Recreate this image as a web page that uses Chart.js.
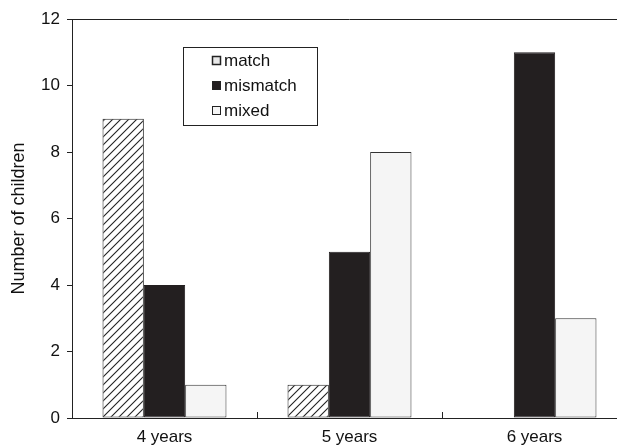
<!DOCTYPE html>
<html>
<head>
<meta charset="utf-8">
<script src="https://cdn.jsdelivr.net/npm/chart.js@4/dist/chart.umd.min.js"></script>
<style>
  html,body{ margin:0; padding:0; background:#fff; overflow:hidden; }
  #c{ display:block; }
</style>
</head>
<body>
<canvas id="c" width="640" height="447"></canvas>
<script>
(function(){
  'use strict';

  // data
  const categories = ['4 years','5 years','6 years'];
  const seriesNames = ['match','mismatch','mixed'];
  const matchVals    = [9, 1, 0];
  const mismatchVals = [4, 5, 11];
  const mixedVals    = [1, 8, 3];
  const yTicks = [0, 2, 4, 6, 8, 10, 12];

  const FONT = "'Liberation Sans', Arial, sans-serif";
  const INK = '#222';

  function hatch(){
    const s = 8, c = document.createElement('canvas');
    c.width = s; c.height = s;
    const g = c.getContext('2d');
    g.fillStyle = '#fff'; g.fillRect(0,0,s,s);
    g.strokeStyle = '#222'; g.lineWidth = 1.1;
    g.beginPath();
    g.moveTo(0,s); g.lineTo(s,0);
    g.moveTo(-1,1); g.lineTo(1,-1);
    g.moveTo(s-1,s+1); g.lineTo(s+1,s-1);
    g.stroke();
    return g.createPattern(c,'repeat');
  }
  const ctx = document.getElementById('c');
  const pat = hatch();
  const fills = [pat, '#231f20', '#f5f5f5'];

  // inward ticks between categories + top frame line
  const frame = {
    id:'frame',
    afterDraw(chart){
      const g = chart.ctx, a = chart.chartArea, x = chart.scales.x;
      g.save();
      g.strokeStyle = INK; g.lineWidth = 1;
      g.beginPath();
      g.moveTo(a.left, a.top + 0.5); g.lineTo(a.right, a.top + 0.5);
      for (let i=1;i<categories.length;i++){
        const px = Math.round((x.getPixelForTick(i-1)+x.getPixelForTick(i))/2) + 0.5;
        g.moveTo(px, a.bottom); g.lineTo(px, a.bottom - 6);
      }
      g.stroke();
      g.restore();
    }
  };

  // legend box inside plot
  const boxLegend = {
    id:'boxLegend',
    afterDraw(chart){
      const g = chart.ctx, a = chart.chartArea;
      const bx = a.left + 111, by = a.top + 28, bw = 134, bh = 78;
      g.save();
      g.fillStyle = '#fff'; g.fillRect(bx, by, bw, bh);
      g.strokeStyle = INK; g.lineWidth = 1;
      g.strokeRect(bx+0.5, by+0.5, bw, bh);
      g.font = '17px ' + FONT;
      g.textBaseline = 'middle';
      seriesNames.forEach((name,i)=>{
        const cy = by + 13 + i*25;
        g.fillStyle = i===0 ? '#e8e8e8' : fills[i];
        g.fillRect(bx+29, cy-4, 9, 9);
        g.strokeStyle = INK; g.lineWidth = i===0 ? 1.5 : 1;
        g.strokeRect(bx+29.5, cy-3.5, 8, 8);
        g.fillStyle = '#111';
        g.fillText(name, bx+41, cy+1);
      });
      g.restore();
    }
  };

  new Chart(ctx, {
    type:'bar',
    data:{
      labels: categories,
      datasets:[
        { label:seriesNames[0], data:matchVals,    backgroundColor:fills[0], borderColor:INK, borderWidth:1, borderSkipped:false },
        { label:seriesNames[1], data:mismatchVals, backgroundColor:fills[1], borderColor:'#231f20', borderWidth:1, borderSkipped:false },
        { label:seriesNames[2], data:mixedVals,    backgroundColor:fills[2], borderColor:'#333', borderWidth:1, borderSkipped:false }
      ]
    },
    options:{
      responsive:false,
      animation:false,
      devicePixelRatio:1,
      layout:{ padding:{ top:19, right:13, left:0, bottom:0 } },
      plugins:{ legend:{ display:false }, tooltip:{ enabled:false } },
      datasets:{ bar:{ categoryPercentage:0.67, barPercentage:1 } },
      scales:{
        x:{
          offset:true,
          grid:{ display:false, drawTicks:false },
          border:{ display:true, color:INK, width:1 },
          ticks:{ color:'#111', padding:9, autoSkip:false, maxRotation:0, font:{ family:FONT, size:17 } },
          afterFit(s){ s.height = 29; }
        },
        y:{
          min:0, max:12,
          afterBuildTicks(s){ s.ticks = yTicks.map(v=>({ value:v })); },
          grid:{ drawOnChartArea:false, drawTicks:true, tickLength:5, color:INK },
          border:{ display:true, color:INK, width:1 },
          ticks:{ color:'#111', padding:7, autoSkip:false, font:{ family:FONT, size:17 } },
          title:{ display:true, text:'Number of children', color:'#111', padding:{ top:8, bottom:0 }, font:{ family:FONT, size:18 } },
          afterFit(s){ s.width = 72; }
        }
      }
    },
    plugins:[frame, boxLegend]
  });
})();
</script>
</body>
</html>
